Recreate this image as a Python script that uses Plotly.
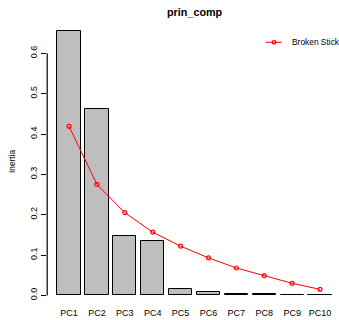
import plotly.graph_objects as go

categories = ["PC1", "PC2", "PC3", "PC4", "PC5", "PC6", "PC7", "PC8", "PC9", "PC10"]
inertia = [0.654, 0.463, 0.147, 0.136, 0.015, 0.008, 0.004, 0.004, 0.002, 0.002]
broken_stick = [0.419, 0.275, 0.205, 0.157, 0.122, 0.093, 0.068, 0.049, 0.030, 0.015]
y_ticks = [0.0, 0.1, 0.2, 0.3, 0.4, 0.5, 0.6]
y_tick_labels = ["0.0", "0.1", "0.2", "0.3", "0.4", "0.5", "0.6"]
title_text = "prin_comp"
y_title = "Inertia"
legend_label = "Broken Stick"

FONT = "Liberation Sans, Arial, Helvetica, sans-serif"
W, H = 339, 320
ML, MR, MT, MB = 47, 0, 21, 14
PW, PH = W - ML - MR, H - MT - MB
Y_RANGE = [-0.0262, 0.680]


def px_to_paper_x(px):
    return (px - ML) / PW


def px_to_paper_y(py):
    return (H - MB - py) / PH


def val_to_paper_y(v):
    return (v - Y_RANGE[0]) / (Y_RANGE[1] - Y_RANGE[0])


fig = go.Figure()
fig.add_trace(go.Bar(
    x=categories, y=inertia, width=1 / 1.2,
    marker=dict(color="#BEBEBE", line=dict(color="black", width=1)),
    showlegend=False, hoverinfo="x+y",
))
fig.add_trace(go.Scatter(
    x=categories, y=broken_stick, mode="lines+markers",
    line=dict(color="#FF0000", width=1),
    marker=dict(symbol="circle-open", size=4, color="#FF0000", line=dict(width=1.2)),
    showlegend=False, name=legend_label,
))

ly = px_to_paper_y(42.3)
shapes = [
    # R-style y axis line spanning only the tick range (thin filled rect)
    dict(type="rect", xref="paper", yref="paper", x0=px_to_paper_x(46.6), x1=px_to_paper_x(47.8),
         y0=val_to_paper_y(y_ticks[0]), y1=val_to_paper_y(y_ticks[-1]),
         fillcolor="#000000", line=dict(width=0), layer="above"),
    dict(type="line", xref="paper", yref="paper", x0=px_to_paper_x(265.7), x1=px_to_paper_x(281.7),
         y0=ly, y1=ly, line=dict(color="#FF0000", width=1)),
    dict(type="circle", xref="paper", yref="paper", xsizemode="pixel", ysizemode="pixel",
         xanchor=px_to_paper_x(274), yanchor=ly, x0=-1.8, x1=1.8, y0=-1.8, y1=1.8,
         line=dict(color="#FF0000", width=1.2)),
]

annotations = [
    dict(text=legend_label, xref="paper", yref="paper", x=px_to_paper_x(289.5), y=ly,
         xanchor="left", yanchor="middle", showarrow=False,
         font=dict(family=FONT, size=8.4, color="black")),
    dict(text=y_title, xref="paper", yref="paper", x=px_to_paper_x(12), y=px_to_paper_y(162),
         xanchor="center", yanchor="middle", textangle=-90, showarrow=False,
         font=dict(family=FONT, size=8.3, color="black")),
    dict(text="<b>" + title_text + "</b>", xref="paper", yref="paper", x=px_to_paper_x(195),
         y=px_to_paper_y(11.7), xanchor="center", yanchor="middle", showarrow=False,
         font=dict(family=FONT, size=10.8, color="black")),
]

fig.update_layout(
    width=W, height=H,
    margin=dict(l=ML, r=MR, t=MT, b=MB, autoexpand=False),
    paper_bgcolor="white", plot_bgcolor="white",
    showlegend=False,
    shapes=shapes, annotations=annotations,
    xaxis=dict(type="category", range=[-0.79, 9.68], showline=False, showgrid=False,
               zeroline=False, ticks="", tickfont=dict(family=FONT, size=9, color="black"),
               automargin=False),
    yaxis=dict(range=Y_RANGE, showline=False, showgrid=False, zeroline=False,
               ticks="outside", ticklen=5, tickcolor="black", tickwidth=1,
               tickvals=y_ticks, ticktext=y_tick_labels, tickangle=-90,
               tickfont=dict(family=FONT, size=9, color="black"), automargin=False),
    bargap=0,
)

fig.write_html(
    "out.html",
    config={"displayModeBar": False},
    post_script="document.body.style.margin='0';document.body.style.overflow='hidden';",
)
